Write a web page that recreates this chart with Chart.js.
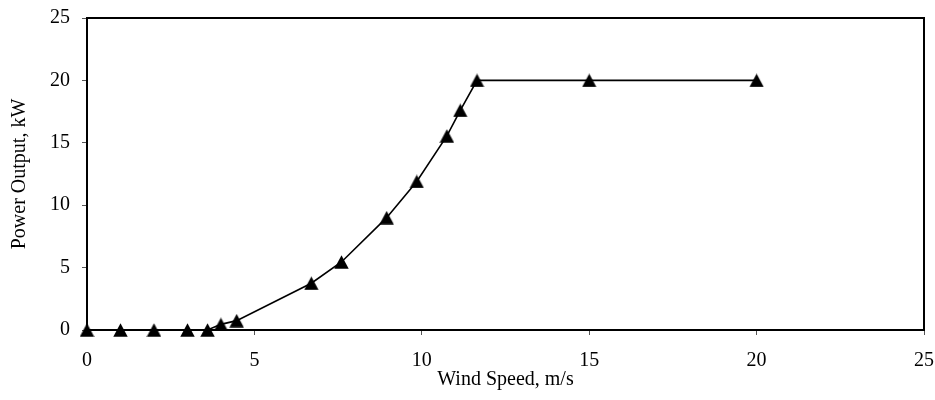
<html>
  <head>
    <title>Wind turbine power curve</title>
    <script src="https://cdn.jsdelivr.net/npm/chart.js@4.4.0/dist/chart.umd.min.js"></script>
    <style>
      html, body { margin: 0; padding: 0; background: #fff; }
      .wrap { width: 935px; height: 400px; }
    </style>
  </head>
  <body>
    <div class="wrap">
      <canvas id="myChart" width="935" height="400"></canvas>
    </div>
    <script>
      // values
      const windSpeed = [0, 1, 2, 3, 3.6, 4.0, 4.47, 6.7, 7.6, 8.95, 9.85, 10.75, 11.15, 11.65, 15, 20];
      const powerOutput = [0, 0, 0, 0, 0, 0.45, 0.75, 3.75, 5.45, 9.0, 11.9, 15.55, 17.6, 20, 20, 20];
      const xTicks = [0, 5, 10, 15, 20, 25];
      const yTicks = [0, 5, 10, 15, 20, 25];

      const FONT = "'Liberation Serif', 'Times New Roman', serif";

      // triangle marker, centred on its box like the spreadsheet one
      const tri = document.createElement("canvas");
      tri.width = 15;
      tri.height = 14;
      const tc = tri.getContext("2d");
      tc.fillStyle = "#000";
      tc.beginPath();
      tc.moveTo(7.5, 0.3);
      tc.lineTo(14.7, 13.7);
      tc.lineTo(0.3, 13.7);
      tc.closePath();
      tc.fill();

      // draw the box round the plot area
      const frame = {
        id: "frame",
        afterDatasetsDraw(chart) {
          const a = chart.chartArea;
          const c = chart.ctx;
          c.save();
          c.strokeStyle = "#000";
          c.lineWidth = 2;
          c.strokeRect(a.left, a.top, a.right - a.left, a.bottom - a.top);
          c.restore();
        }
      };

      const points = windSpeed.map((x, i) => ({ x: x, y: powerOutput[i] }));

      const config = {
        type: "line",
        data: {
          datasets: [{
            data: points,
            borderColor: "#000",
            borderWidth: 1.6,
            backgroundColor: "#000",
            pointStyle: tri,
            pointRadius: 7,
            tension: 0,
            clip: false
          }]
        },
        options: {
          responsive: false,
          animation: false,
          layout: { padding: { top: 18, right: 11, left: 0, bottom: 0 } },
          plugins: {
            legend: { display: false },
            tooltip: { enabled: false }
          },
          scales: {
            x: {
              type: "linear",
              min: 0,
              max: 25,
              afterBuildTicks: s => { s.ticks = xTicks.map(v => ({ value: v })); },
              afterFit: s => { s.height = 70; s.paddingLeft = 0; s.paddingRight = 0; },
              grid: { drawOnChartArea: false, tickLength: 5, color: "#555" },
              border: { color: "#000", width: 2 },
              ticks: { color: "#000", padding: 14, font: { family: FONT, size: 20 } },
              title: {
                display: true,
                text: "Wind Speed, m/s",
                color: "#000",
                padding: { top: 0, bottom: 8 },
                font: { family: FONT, size: 20 }
              }
            },
            y: {
              type: "linear",
              min: 0,
              max: 25,
              afterBuildTicks: s => { s.ticks = yTicks.map(v => ({ value: v })); },
              afterFit: s => { s.width = 87; s.paddingTop = 0; s.paddingBottom = 0; },
              grid: { drawOnChartArea: false, tickLength: 5, color: "#555" },
              border: { color: "#000", width: 2 },
              ticks: { color: "#000", padding: 12, font: { family: FONT, size: 20 } },
              title: {
                display: true,
                text: "Power Output, kW",
                color: "#000",
                padding: { top: 8, bottom: 0 },
                font: { family: FONT, size: 20 }
              }
            }
          }
        },
        plugins: [frame]
      };

      new Chart(document.getElementById("myChart"), config);
    </script>
  </body>
</html>
